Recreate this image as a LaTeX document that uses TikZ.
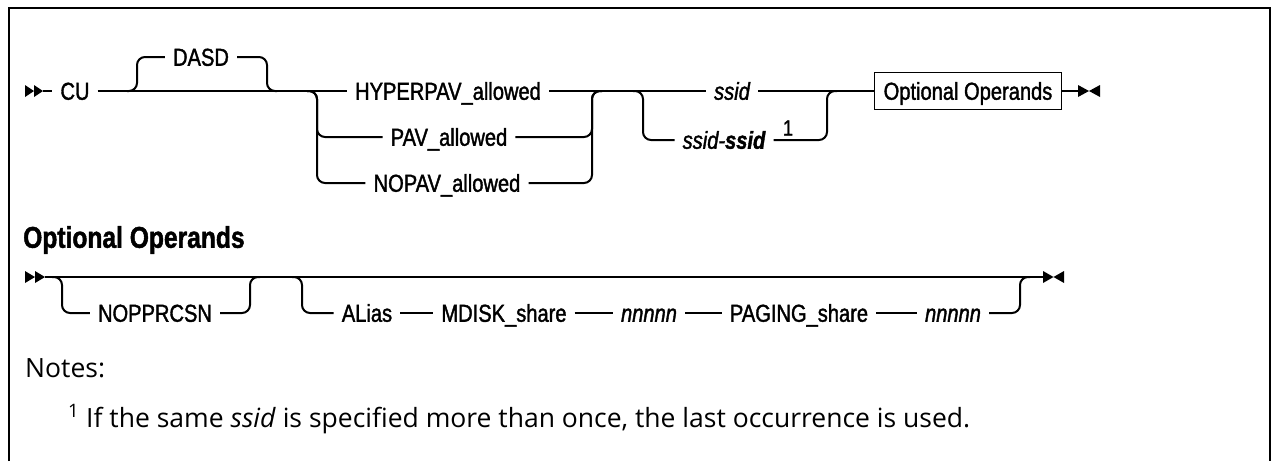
\documentclass[tikz,border=0pt]{standalone}
\usepackage{fontspec}
\setmainfont{Liberation Sans}
\newfontfamily\railfont{Liberation Sans}[FakeStretch=0.82,FakeBold=1.5]
\newfontfamily\notefont{Open Sans}
\usetikzlibrary{positioning}

\begin{document}
\begin{tikzpicture}[x=1pt,y=-1pt,
	rail/.style={line width=2pt, rounded corners=8pt},
	kw/.style={font=\railfont\fontsize{24.5}{28}\selectfont, inner xsep=8pt, inner ysep=0pt, text height=17.5pt, text depth=0pt},
	var/.style={kw, font=\railfont\fontsize{24.5}{28}\selectfont\itshape},
	boxed/.style={kw, draw, line width=1.6pt, minimum height=37pt, inner xsep=9pt},
	note/.style={font=\notefont\fontsize{26.5}{30}\selectfont, inner sep=0pt, anchor=base west}]
	\useasboundingbox (0,0) rectangle (1274,461);
	\draw[line width=2.4pt] (9,461) -- (9,8) -- (1270,8) -- (1270,461);
	
	% first diagram
	\fill (25,85) -- (25,97) -- (34,91) -- cycle (34,85) -- (34,97) -- (43,91) -- cycle;
	\coordinate (s1) at (43,91);
	\node[kw] (cu) at (75,91) {CU};
	\node[kw] (dasd) at (201,57) {DASD};
	\node[kw] (hyper) at (448,91) {HYPERPAV\_allowed};
	\node[kw] (pav) at (449,137) {PAV\_allowed};
	\node[kw] (nopav) at (447,183) {NOPAV\_allowed};
	\node[var] (ssid) at (732,91) {ssid};
	\node[var] (range) at (724,140) {ssid-\textbf{ssid}};
	\node[font=\railfont\fontsize{22}{24}\selectfont, inner sep=0pt] (sup1) at (788,128) {1};
	\node[boxed] (opt) at (968,91) {Optional Operands};
	\coordinate (e1) at (1078,91);
	\fill (1078,85) -- (1078,97) -- (1089,91) -- cycle (1100,85) -- (1100,97) -- (1089,91) -- cycle;
	
	\coordinate (f1) at (127,91);
	\coordinate (j1) at (277,91);
	\coordinate (f2) at (307,91);
	\coordinate (j2) at (602,91);
	\coordinate (f3) at (633,91);
	\coordinate (j3) at (837,91);
	
	\draw[rail] (s1) -- (cu);
	\draw[rail] (cu) -- (hyper);
	\draw[rail] (hyper) -- (ssid);
	\draw[rail] (ssid) -- (opt);
	\draw[rail] (opt) -- (e1);
	\draw[rail] (f1) -- ++(10,0) |- (dasd);
	\draw[rail] (dasd) -| ([xshift=-10pt]j1) -- (j1);
	\draw[rail] (f2) -- ++(10,0) |- (pav);
	\draw[rail] (f2) -- ++(10,0) |- (nopav);
	\draw[rail] (pav) -| ([xshift=-10pt]j2) -- (j2);
	\draw[rail] (nopav) -| ([xshift=-10pt]j2) -- (j2);
	\draw[rail] (f3) -- ++(10,0) |- (range);
	\draw[rail] (range) -| ([xshift=-10pt]j3) -- (j3);
	
	% optional operands
	\node[font=\railfont\bfseries\fontsize{30}{34}\selectfont, anchor=west, inner sep=0pt] (ophead) at (23,240) {Optional Operands};
	\fill (25,271) -- (25,283) -- (35,277) -- cycle (35,271) -- (35,283) -- (45,277) -- cycle;
	\coordinate (s2) at (45,277);
	\coordinate (e2) at (1043,277);
	\fill (1043,271) -- (1043,283) -- (1053.5,277) -- cycle (1064,271) -- (1064,283) -- (1053.5,277) -- cycle;
	\node[kw] (noppr) at (155,313) {NOPPRCSN};
	\node[kw] (alias) at (367,313) {ALias};
	\node[kw] (mdisk) at (504,313) {MDISK\_share};
	\node[var] (nn1) at (649,313) {nnnnn};
	\node[kw] (paging) at (799,313) {PAGING\_share};
	\node[var] (nn2) at (953,313) {nnnnn};
	
	\coordinate (f4) at (52,277);
	\coordinate (j4) at (260,277);
	\coordinate (f5) at (292,277);
	\coordinate (j5) at (1030,277);
	
	\draw[rail] (s2) -- (e2);
	\draw[rail] (f4) -- ++(10,0) |- (noppr);
	\draw[rail] (noppr) -| ([xshift=-10pt]j4) -- (j4);
	\draw[rail] (f5) -- ++(10,0) |- (alias);
	\draw[rail] (alias) -- (mdisk);
	\draw[rail] (mdisk) -- (nn1);
	\draw[rail] (nn1) -- (paging);
	\draw[rail] (paging) -- (nn2);
	\draw[rail] (nn2) -| ([xshift=-10pt]j5) -- (j5);
	
	% notes
	\node[note] (notes) at (25,377) {Notes:};
	\node[note] (fnote) at (68,427) {\textsuperscript{1} If the same \textit{ssid} is specified more than once, the last occurrence is used.};
\end{tikzpicture}
\end{document}
